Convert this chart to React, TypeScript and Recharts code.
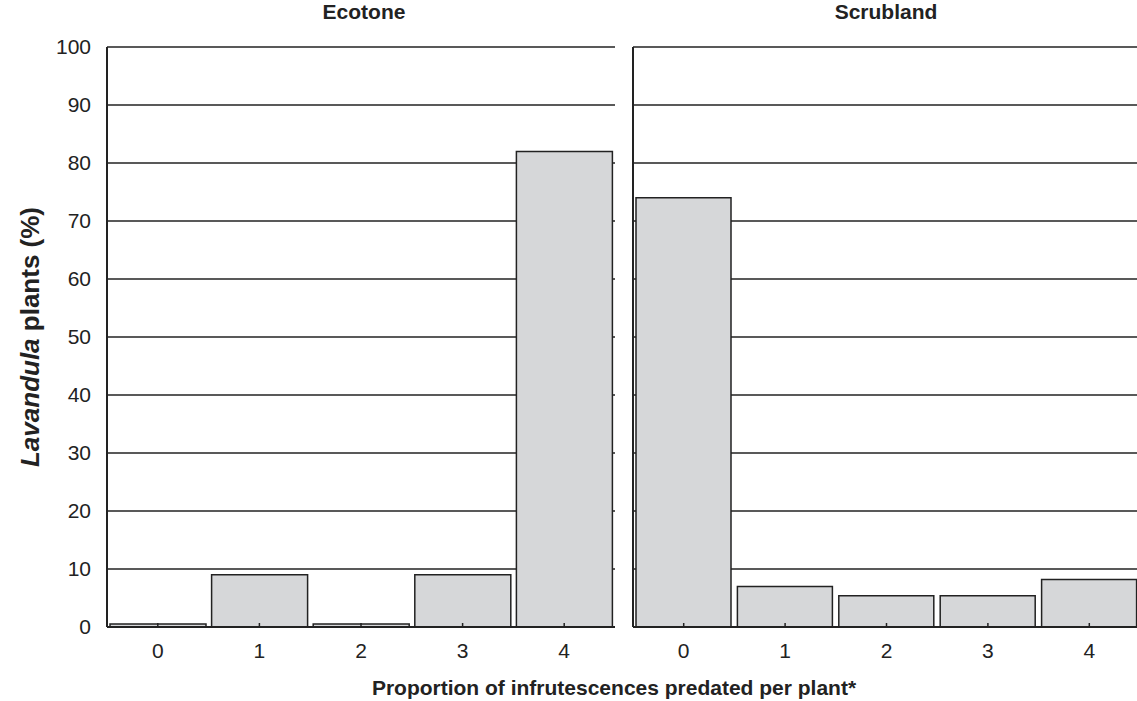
import React from 'react';
import { BarChart, Bar, XAxis, YAxis, CartesianGrid } from 'recharts';

const categories = ['0', '1', '2', '3', '4'];
const ecotoneValues = [0.5, 9, 0.5, 9, 82];
const scrublandValues = [74, 7, 5.4, 5.4, 8.2];
const yTicks = [0, 10, 20, 30, 40, 50, 60, 70, 80, 90, 100];

const ecotoneData = categories.map((c, i) => ({ cat: c, value: ecotoneValues[i] }));
const scrublandData = categories.map((c, i) => ({ cat: c, value: scrublandValues[i] }));

const FONT = '"Liberation Sans", Arial, Helvetica, sans-serif';
const INK = '#222';

// inward tick mark + label below the axis
const XTick = (props: any) => {
  const { x, y, payload } = props;
  return (
    <g>
      <line x1={x} x2={x} y1={y - 10} y2={y - 14} stroke={INK} strokeWidth={1.5} />
      <text x={x} y={y + 21} textAnchor="middle" fontSize={21} fill={INK} fontFamily={FONT}>
        {payload.value}
      </text>
    </g>
  );
};

const NoTick = () => <g />;

const Panel = ({ data, withLabels, width }: { data: any[]; withLabels: boolean; width: number }) => (
  <BarChart
    width={width}
    height={701}
    data={data}
    margin={{ top: 47, right: 0, bottom: 44, left: 0 }}
    barCategoryGap={3}
  >
    <CartesianGrid vertical={false} stroke={INK} strokeWidth={1.5} strokeOpacity={1} />
    <XAxis
      dataKey="cat"
      height={30}
      tickSize={0}
      tickMargin={10}
      tickLine={false}
      axisLine={{ stroke: INK, strokeWidth: 2 }}
      tick={<XTick />}
      interval={0}
    />
    <YAxis
      domain={[0, 100]}
      ticks={yTicks}
      interval={0}
      width={withLabels ? 107 : 1}
      tickSize={0}
      tickMargin={16}
      tickLine={false}
      axisLine={{ stroke: INK, strokeWidth: 2 }}
      tick={withLabels ? { fontSize: 21, fill: INK, fontFamily: FONT } : <NoTick />}
    />
    <Bar dataKey="value" fill="#d6d7d9" stroke={INK} strokeWidth={1.5} isAnimationActive={false} />
  </BarChart>
);

export default function App() {
  return (
    <div
      style={{
        position: 'absolute',
        left: 0,
        top: 0,
        width: 1137,
        height: 701,
        overflow: 'hidden',
        background: '#fff',
        fontFamily: FONT,
      }}
    >
      <div style={{ position: 'absolute', left: 0, top: 0 }}>
        <Panel data={ecotoneData} withLabels={true} width={615} />
      </div>
      <div style={{ position: 'absolute', left: 632, top: 0 }}>
        <Panel data={scrublandData} withLabels={false} width={508} />
      </div>
      <svg
        width={1137}
        height={701}
        style={{ position: 'absolute', left: 0, top: 0, pointerEvents: 'none' }}
        fontFamily={FONT}
        fill={INK}
      >
        <text x={364} y={19} textAnchor="middle" fontSize={21} fontWeight="bold">
          Ecotone
        </text>
        <text x={886} y={19} textAnchor="middle" fontSize={21} fontWeight="bold">
          Scrubland
        </text>
        <text x={614} y={695} textAnchor="middle" fontSize={21} fontWeight="bold">
          Proportion of infrutescences predated per plant*
        </text>
        <text
          transform="translate(39, 337) rotate(-90)"
          textAnchor="middle"
          fontSize={26}
          fontWeight="bold"
        >
          <tspan fontStyle="italic">Lavandula</tspan>
          <tspan> plants (%)</tspan>
        </text>
      </svg>
    </div>
  );
}
